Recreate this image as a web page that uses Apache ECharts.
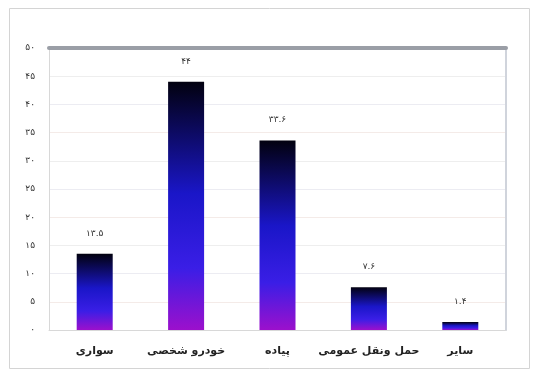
<!DOCTYPE html>
<html>
<head>
<meta charset="utf-8">
<script src="https://cdn.jsdelivr.net/npm/echarts@6/dist/echarts.min.js"></script>
<style>
  html, body { margin: 0; padding: 0; background: #fff; }
  #chart { width: 535px; height: 371px; }
</style>
</head>
<body>
<div id="chart"></div>
<script>
// Modes of travel (share, percent)
const categories = ['سواری', 'خودرو شخصی', 'پیاده', 'حمل ونقل عمومی', 'سایر'];
const shares = [13.5, 44, 33.6, 7.6, 1.4];
const yMin = 0;
const yMax = 50;
const yStep = 5;

const faDigits = '۰۱۲۳۴۵۶۷۸۹';
function toFa(v) {
  return String(v).replace(/[0-9]/g, d => faDigits[+d]);
}

const chart = echarts.init(document.getElementById('chart'));
const font = 'DejaVu Sans';

chart.setOption({
  animation: false,
  backgroundColor: '#ffffff',
  graphic: [{
    type: 'rect',
    shape: { x: 9.5, y: 8.5, width: 520, height: 360 },
    style: { fill: 'none', stroke: '#d4d4d4', lineWidth: 1 },
    silent: true
  }],
  grid: { left: 49, right: 29, top: 48, bottom: 41 },
  xAxis: [{
    type: 'category',
    data: categories,
    axisTick: { show: false },
    axisLine: { onZero: false, lineStyle: { color: '#d8d8d8', width: 1 } },
    axisLabel: {
      color: '#222',
      fontFamily: font,
      fontSize: 11,
      fontWeight: 'bold',
      margin: 16,
      interval: 0
    }
  }, {
    type: 'category',
    position: 'top',
    data: categories,
    axisTick: { show: false },
    axisLabel: { show: false },
    axisLine: { onZero: false, lineStyle: { color: '#9a9ea6', width: 4 } }
  }],
  yAxis: [{
    type: 'value',
    min: yMin,
    max: yMax,
    interval: yStep,
    axisLine: { show: true, lineStyle: { color: '#d8d8d8' } },
    axisTick: { show: false },
    splitLine: { lineStyle: { color: ['#eeeeee', '#f4ebe8', '#ececf2'], width: 1 } },
    axisLabel: {
      color: '#333',
      fontFamily: font,
      fontSize: 9,
      margin: 14,
      formatter: v => toFa(v)
    }
  }, {
    type: 'value',
    position: 'right',
    min: yMin,
    max: yMax,
    interval: yStep,
    axisLine: { show: true, lineStyle: { color: '#d0d4dc', width: 2 } },
    axisTick: { show: false },
    axisLabel: { show: false },
    splitLine: { show: false }
  }],
  series: [{
    type: 'bar',
    data: shares,
    barWidth: 36,
    itemStyle: {
      color: new echarts.graphic.LinearGradient(0, 0, 0, 1, [
        { offset: 0, color: '#02010f' },
        { offset: 0.45, color: '#1a16c8' },
        { offset: 0.75, color: '#3a1ee6' },
        { offset: 1, color: '#9c10cc' }
      ])
    },
    label: {
      show: true,
      position: 'top',
      distance: 16,
      color: '#333',
      fontFamily: font,
      fontSize: 9,
      formatter: p => toFa(p.value)
    }
  }]
});
</script>
</body>
</html>
